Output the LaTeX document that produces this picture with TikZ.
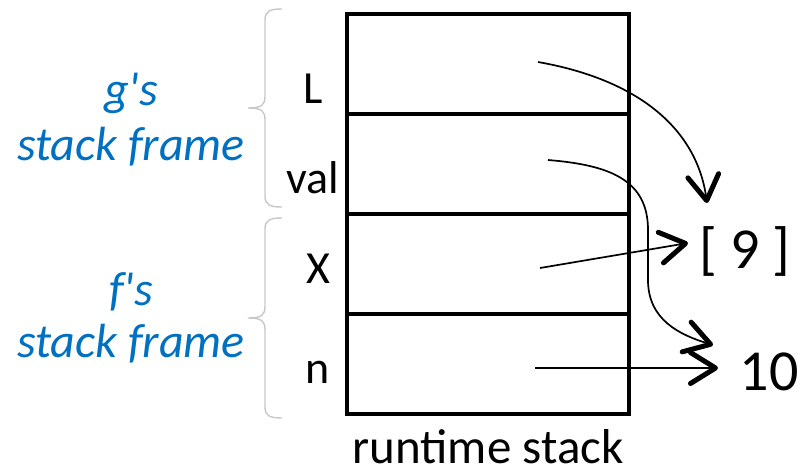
\documentclass[tikz,border=0pt]{standalone}
\usepackage{fontspec}
\setmainfont{Carlito}
\usetikzlibrary{arrows.meta}
\definecolor{frameblue}{HTML}{0070C0}
\definecolor{bracegray}{HTML}{C8C8C8}
\begin{document}
\begin{tikzpicture}[x=1pt,y=-1pt,
  cell/.style={draw,line width=3.2pt,minimum width=282pt,minimum height=100pt,inner sep=0pt},
  varlabel/.style={font=\fontsize{46}{50}\selectfont,anchor=base,inner sep=0pt},
  vallabel/.style={font=\fontsize{58}{60}\selectfont,anchor=base,inner sep=0pt},
  framelabel/.style={font=\fontsize{48}{55}\selectfont\itshape,text=frameblue,align=center,inner sep=0pt},
  brace/.style={draw=bracegray,line width=1.4pt},
  ptr/.style={line width=1.7pt,-{Straight Barb[length=25pt,width=31pt,line width=5pt,round]}}]
\useasboundingbox (0,0) rectangle (806,475);
% stack cells
\node[cell] (c1) at (488,64) {};
\node[cell] (c2) at (488,164) {};
\node[cell] (c3) at (488,264) {};
\node[cell] (c4) at (488,364) {};
% variable names
\node[varlabel] (lL) at (313,103) {L};
\node[varlabel] (lval) at (313,193) {val};
\node[varlabel] (lX) at (318,283) {X};
\node[varlabel] (ln) at (318,383) {n};
% values
\node[vallabel] (nine) at (745,268) {[ 9 ]};
\node[vallabel] (ten) at (769,390) {10};
% caption
\node[font=\fontsize{49}{50}\selectfont,anchor=base,inner sep=0pt] (cap) at (488,463) {runtime stack};
% frame labels
\node[framelabel,anchor=base] (g1) at (131,105) {g\textquotesingle s};
\node[framelabel,anchor=base] (g2) at (131,160) {stack frame};
\node[framelabel,anchor=base] (f1) at (131,305) {f\textquotesingle s};
\node[framelabel,anchor=base] (f2) at (131,357) {stack frame};
% braces
\draw[brace] (282,9) .. controls (270,9) and (265,11) .. (265,20) -- (265,96)
  .. controls (265,105) and (262,108) .. (248,108)
  .. controls (262,108) and (265,111) .. (265,120) -- (265,196)
  .. controls (265,205) and (270,207) .. (282,207);
\draw[brace] (282,218) .. controls (270,218) and (265,220) .. (265,229) -- (265,306)
  .. controls (265,315) and (262,318) .. (248,318)
  .. controls (262,318) and (265,321) .. (265,330) -- (265,407)
  .. controls (265,416) and (270,418) .. (282,418);
% pointer coordinates
\coordinate (sL) at (538,62);
\coordinate (tL) at (707,203);
\coordinate (sval) at (548,160);
\coordinate (tval) at (713,345);
\coordinate (sX) at (540,268);
\coordinate (tX) at (688,243);
\coordinate (sn) at (535,368);
\coordinate (tn) at (718,368);
% pointers
\draw[ptr] (sL) .. controls (640,80) and (697,130) .. (tL);
\draw[ptr] (sval) .. controls (610,165) and (648,180) .. (648,230) -- (648,280)
  .. controls (648,320) and (680,335) .. (tval);
\draw[ptr] (sX) -- (tX);
\draw[ptr] (sn) -- (tn);
\end{tikzpicture}
\end{document}
